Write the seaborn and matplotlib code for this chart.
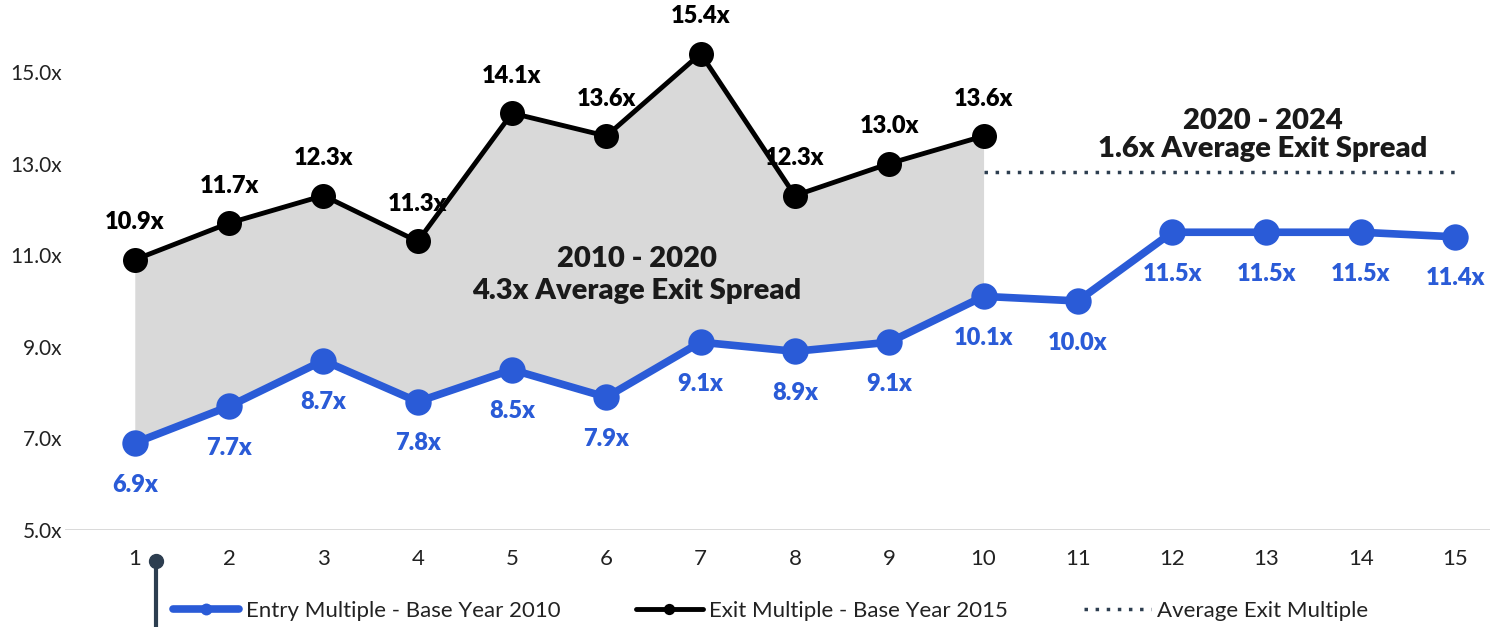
import pandas as pd
import matplotlib.pyplot as plt
import seaborn as sns

# data
years = list(range(1, 16))
entry_multiple = [6.9, 7.7, 8.7, 7.8, 8.5, 7.9, 9.1, 8.9, 9.1, 10.1, 10.0, 11.5, 11.5, 11.5, 11.4]
exit_years = list(range(1, 11))
exit_multiple = [10.9, 11.7, 12.3, 11.3, 14.1, 13.6, 15.4, 12.3, 13.0, 13.6]
y_ticks = [5.0, 7.0, 9.0, 11.0, 13.0, 15.0]

BLUE = '#2a5bd7'
SLATE = '#2d3e50'
FONT = ['Lato', 'DejaVu Sans']

sns.set_theme(style='white')
plt.rcParams['font.family'] = FONT

entry_df = pd.DataFrame({'year': years, 'multiple': entry_multiple})
exit_df = pd.DataFrame({'year': exit_years, 'multiple': exit_multiple})
avg_exit = sum(exit_multiple) / len(exit_multiple)
avg_df = pd.DataFrame({'year': [10, 15], 'multiple': [avg_exit, avg_exit]})

fig = plt.figure(figsize=(14.99, 6.27), dpi=100)
ax = fig.add_axes([65 / 1499, 97 / 627, 1425 / 1499, 530 / 627])

# grey spread area between exit and entry (2010-2020)
ax.fill_between(exit_years, exit_multiple, entry_multiple[:len(exit_years)],
                color='#d9d9d9', lw=0, zorder=1)

sns.lineplot(data=entry_df, x='year', y='multiple', ax=ax, color=BLUE, lw=5.5,
             marker='o', markersize=19, markeredgewidth=0, zorder=3,
             label='Entry Multiple - Base Year 2010')
sns.lineplot(data=exit_df, x='year', y='multiple', ax=ax, color='black', lw=3.5,
             marker='o', markersize=18, markeredgewidth=0, zorder=4,
             label='Exit Multiple - Base Year 2015')
sns.lineplot(data=avg_df, x='year', y='multiple', ax=ax, color=SLATE, lw=2.5,
             linestyle=(0, (1, 2.2)), zorder=2, label='Average Exit Multiple')

for x, v in zip(exit_years, exit_multiple):
    ax.annotate(f'{v:.1f}x', (x, v), xytext=(0, 27), textcoords='offset points',
                ha='center', va='center', fontsize=17, fontweight='heavy', color='black')
for x, v in zip(years, entry_multiple):
    ax.annotate(f'{v:.1f}x', (x, v), xytext=(0, -30), textcoords='offset points',
                ha='center', va='center', fontsize=17, fontweight='heavy', color=BLUE)

ax.text(6.32, 10.57, '2010 - 2020\n4.3x Average Exit Spread', ha='center', va='center',
        fontsize=21, fontweight='heavy', color='#1a1a1a', linespacing=1.3)
ax.text(12.96, 13.62, '2020 - 2024\n1.6x Average Exit Spread', ha='center', va='center',
        fontsize=21, fontweight='heavy', color='#1a1a1a', linespacing=1.1)

# marker line hanging below the first tick
ax.plot([1.22, 1.22], [4.32, 2.7], color=SLATE, lw=3, clip_on=False, zorder=5)
ax.plot([1.22], [4.32], 'o', color=SLATE, markersize=10, clip_on=False, zorder=5)

ax.set_xlim(0.26, 15.37)
ax.set_ylim(5.0, 16.57)
ax.set_xticks(years)
ax.set_xticklabels([str(y) for y in years])
ax.set_yticks(y_ticks)
ax.set_yticklabels([f'{t:.1f}x' for t in y_ticks])
ax.tick_params(axis='x', labelsize=16, colors='#222222', length=0, pad=14)
ax.tick_params(axis='y', labelsize=15, colors='#222222', length=0, pad=2)
ax.set_xlabel('')
ax.set_ylabel('')
sns.despine(ax=ax, left=True, bottom=True)
ax.axhline(5.0, color='#d6d6d6', lw=2, zorder=0)

handles, labels = ax.get_legend_handles_labels()
ax.legend_.remove()
leg = fig.legend(handles, labels, loc='lower center', ncol=3, frameon=False,
                 bbox_to_anchor=(0.514, -0.022), fontsize=16, handlelength=3.0,
                 columnspacing=3.4, handletextpad=0.3, markerscale=0.45,
                 labelcolor='#222222')

fig.savefig('out.png', dpi=100)
